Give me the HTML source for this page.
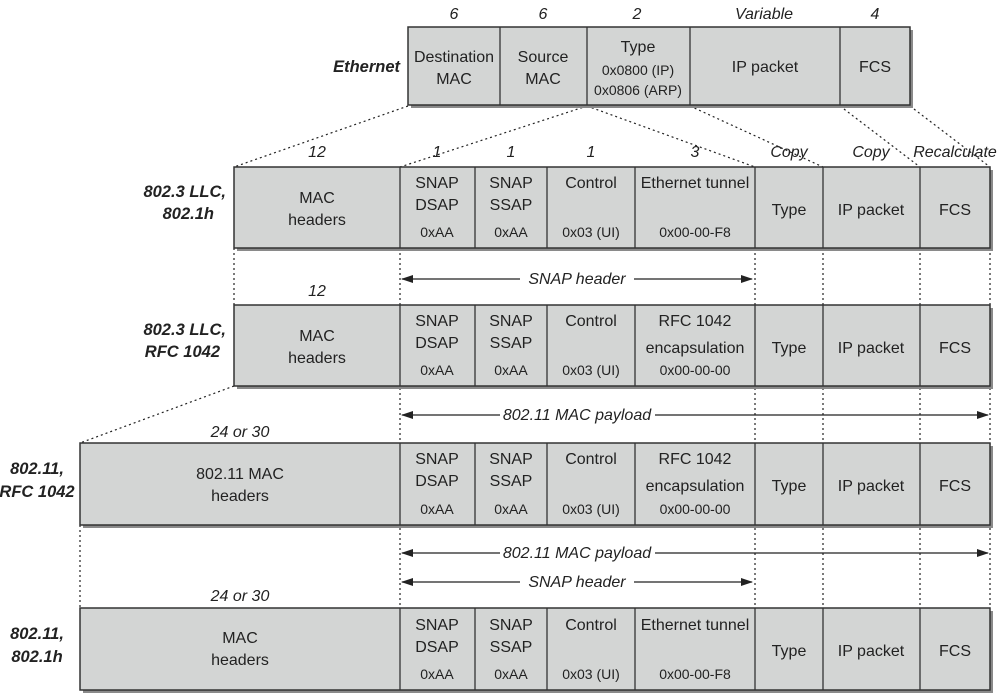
<!DOCTYPE html>
<html><head><meta charset="utf-8"><style>
html,body{margin:0;padding:0;background:#fff;}
svg{display:block;}
text{font-family:"Liberation Sans",sans-serif;font-size:16px;fill:#222;text-anchor:middle;}
.i{font-style:italic;}
.b{font-weight:bold;font-style:italic;font-size:16.5px;}
.s{font-size:14px;}
.d{stroke:#222;stroke-width:1.2;stroke-dasharray:2,3;fill:none;}
.box{fill:#d3d5d4;stroke:#333;stroke-width:1.5;}
.sh{fill:#8a8a8a;}
.v{stroke:#333;stroke-width:1.3;}
</style></head><body>
<svg width="999" height="694" viewBox="0 0 999 694" xmlns="http://www.w3.org/2000/svg">
<defs><marker id="a" markerWidth="12" markerHeight="8" refX="11" refY="4" orient="auto-start-reverse" markerUnits="userSpaceOnUse"><path d="M0,0 L12,4 L0,8 z" fill="#222"/></marker></defs>

<line class="d" x1="408" y1="106" x2="234" y2="167"/>
<line class="d" x1="587" y1="106" x2="400" y2="167"/>
<line class="d" x1="587" y1="106" x2="755" y2="167"/>
<line class="d" x1="690" y1="106" x2="823" y2="167"/>
<line class="d" x1="840" y1="106" x2="920" y2="167"/>
<line class="d" x1="910" y1="106" x2="990" y2="167"/>
<line class="d" x1="234" y1="248" x2="234" y2="305"/>
<line class="d" x1="234" y1="386" x2="80" y2="443"/>
<line class="d" x1="80" y1="525" x2="80" y2="608"/>
<line class="d" x1="400" y1="248" x2="400" y2="608"/>
<line class="d" x1="755" y1="248" x2="755" y2="608"/>
<line class="d" x1="823" y1="248" x2="823" y2="608"/>
<line class="d" x1="920" y1="248" x2="920" y2="608"/>
<line class="d" x1="990" y1="248" x2="990" y2="608"/>

<text class="b" x="400" y="72" style="text-anchor:end">Ethernet</text>
<text class="i" x="454" y="19">6</text><text class="i" x="543" y="19">6</text><text class="i" x="637" y="19">2</text><text class="i" x="764" y="19">Variable</text><text class="i" x="875" y="19">4</text>
<rect class="sh" x="411" y="30" width="502" height="78"/>
<rect class="box" x="408" y="27" width="502" height="78"/>
<line class="v" x1="500" y1="27" x2="500" y2="105"/><line class="v" x1="587" y1="27" x2="587" y2="105"/><line class="v" x1="690" y1="27" x2="690" y2="105"/><line class="v" x1="840" y1="27" x2="840" y2="105"/>
<text x="454" y="62">Destination</text><text x="454" y="84">MAC</text>
<text x="543" y="62">Source</text><text x="543" y="84">MAC</text>
<text x="638" y="52">Type</text><text class="s" x="638" y="75">0x0800 (IP)</text><text class="s" x="638" y="95">0x0806 (ARP)</text>
<text x="765" y="72">IP packet</text><text x="875" y="72">FCS</text>

<text class="i" x="317" y="157">12</text><text class="i" x="437" y="157">1</text><text class="i" x="511" y="157">1</text><text class="i" x="591" y="157">1</text><text class="i" x="695" y="157">3</text>
<text class="i" x="789" y="157">Copy</text><text class="i" x="871" y="157">Copy</text><text class="i" x="955" y="157">Recalculate</text>

<text class="b" x="226" y="197" style="text-anchor:end">802.3 LLC,</text><text class="b" x="214" y="219" style="text-anchor:end">802.1h</text>
<rect class="sh" x="237" y="170" width="756" height="81"/>
<rect class="box" x="234" y="167" width="756" height="81"/>
<line class="v" x1="400" y1="167" x2="400" y2="248"/><line class="v" x1="475" y1="167" x2="475" y2="248"/><line class="v" x1="547" y1="167" x2="547" y2="248"/><line class="v" x1="635" y1="167" x2="635" y2="248"/><line class="v" x1="755" y1="167" x2="755" y2="248"/><line class="v" x1="823" y1="167" x2="823" y2="248"/><line class="v" x1="920" y1="167" x2="920" y2="248"/>
<text x="317" y="203">MAC</text><text x="317" y="225">headers</text>
<text x="437" y="188">SNAP</text><text x="437" y="210">DSAP</text><text class="s" x="437" y="237">0xAA</text>
<text x="511" y="188">SNAP</text><text x="511" y="210">SSAP</text><text class="s" x="511" y="237">0xAA</text>
<text x="591" y="188">Control</text><text class="s" x="591" y="237">0x03 (UI)</text>
<text x="695" y="188">Ethernet tunnel</text><text class="s" x="695" y="237">0x00-00-F8</text>
<text x="789" y="215">Type</text><text x="871" y="215">IP packet</text><text x="955" y="215">FCS</text>

<line x1="402" y1="279" x2="520" y2="279" stroke="#222" stroke-width="1.3" marker-start="url(#a)"/>
<line x1="634" y1="279" x2="752" y2="279" stroke="#222" stroke-width="1.3" marker-end="url(#a)"/>
<text class="i" x="577" y="284">SNAP header</text>
<text class="i" x="317" y="296">12</text>

<text class="b" x="226" y="335" style="text-anchor:end">802.3 LLC,</text><text class="b" x="220" y="357" style="text-anchor:end">RFC 1042</text>
<rect class="sh" x="237" y="308" width="756" height="81"/>
<rect class="box" x="234" y="305" width="756" height="81"/>
<line class="v" x1="400" y1="305" x2="400" y2="386"/><line class="v" x1="475" y1="305" x2="475" y2="386"/><line class="v" x1="547" y1="305" x2="547" y2="386"/><line class="v" x1="635" y1="305" x2="635" y2="386"/><line class="v" x1="755" y1="305" x2="755" y2="386"/><line class="v" x1="823" y1="305" x2="823" y2="386"/><line class="v" x1="920" y1="305" x2="920" y2="386"/>
<text x="317" y="341">MAC</text><text x="317" y="363">headers</text>
<text x="437" y="326">SNAP</text><text x="437" y="348">DSAP</text><text class="s" x="437" y="375">0xAA</text>
<text x="511" y="326">SNAP</text><text x="511" y="348">SSAP</text><text class="s" x="511" y="375">0xAA</text>
<text x="591" y="326">Control</text><text class="s" x="591" y="375">0x03 (UI)</text>
<text x="695" y="326">RFC 1042</text><text x="695" y="353">encapsulation</text><text class="s" x="695" y="375">0x00-00-00</text>
<text x="789" y="353">Type</text><text x="871" y="353">IP packet</text><text x="955" y="353">FCS</text>

<line x1="402" y1="415" x2="500" y2="415" stroke="#222" stroke-width="1.3" marker-start="url(#a)"/>
<line x1="655" y1="415" x2="988" y2="415" stroke="#222" stroke-width="1.3" marker-end="url(#a)"/>
<text class="i" x="577" y="420">802.11 MAC payload</text>
<text class="i" x="240" y="437">24 or 30</text>

<text class="b" x="37" y="474">802.11,</text><text class="b" x="37" y="497">RFC 1042</text>
<rect class="sh" x="83" y="446" width="910" height="82"/>
<rect class="box" x="80" y="443" width="910" height="82"/>
<line class="v" x1="400" y1="443" x2="400" y2="525"/><line class="v" x1="475" y1="443" x2="475" y2="525"/><line class="v" x1="547" y1="443" x2="547" y2="525"/><line class="v" x1="635" y1="443" x2="635" y2="525"/><line class="v" x1="755" y1="443" x2="755" y2="525"/><line class="v" x1="823" y1="443" x2="823" y2="525"/><line class="v" x1="920" y1="443" x2="920" y2="525"/>
<text x="240" y="479">802.11 MAC</text><text x="240" y="501">headers</text>
<text x="437" y="464">SNAP</text><text x="437" y="486">DSAP</text><text class="s" x="437" y="514">0xAA</text>
<text x="511" y="464">SNAP</text><text x="511" y="486">SSAP</text><text class="s" x="511" y="514">0xAA</text>
<text x="591" y="464">Control</text><text class="s" x="591" y="514">0x03 (UI)</text>
<text x="695" y="464">RFC 1042</text><text x="695" y="491">encapsulation</text><text class="s" x="695" y="514">0x00-00-00</text>
<text x="789" y="491">Type</text><text x="871" y="491">IP packet</text><text x="955" y="491">FCS</text>

<line x1="402" y1="553" x2="500" y2="553" stroke="#222" stroke-width="1.3" marker-start="url(#a)"/>
<line x1="655" y1="553" x2="988" y2="553" stroke="#222" stroke-width="1.3" marker-end="url(#a)"/>
<text class="i" x="577" y="558">802.11 MAC payload</text>
<line x1="402" y1="582" x2="520" y2="582" stroke="#222" stroke-width="1.3" marker-start="url(#a)"/>
<line x1="634" y1="582" x2="752" y2="582" stroke="#222" stroke-width="1.3" marker-end="url(#a)"/>
<text class="i" x="577" y="587">SNAP header</text>
<text class="i" x="240" y="601">24 or 30</text>

<text class="b" x="37" y="639">802.11,</text><text class="b" x="37" y="662">802.1h</text>
<rect class="sh" x="83" y="611" width="910" height="82"/>
<rect class="box" x="80" y="608" width="910" height="82"/>
<line class="v" x1="400" y1="608" x2="400" y2="690"/><line class="v" x1="475" y1="608" x2="475" y2="690"/><line class="v" x1="547" y1="608" x2="547" y2="690"/><line class="v" x1="635" y1="608" x2="635" y2="690"/><line class="v" x1="755" y1="608" x2="755" y2="690"/><line class="v" x1="823" y1="608" x2="823" y2="690"/><line class="v" x1="920" y1="608" x2="920" y2="690"/>
<text x="240" y="643">MAC</text><text x="240" y="665">headers</text>
<text x="437" y="630">SNAP</text><text x="437" y="652">DSAP</text><text class="s" x="437" y="679">0xAA</text>
<text x="511" y="630">SNAP</text><text x="511" y="652">SSAP</text><text class="s" x="511" y="679">0xAA</text>
<text x="591" y="630">Control</text><text class="s" x="591" y="679">0x03 (UI)</text>
<text x="695" y="630">Ethernet tunnel</text><text class="s" x="695" y="679">0x00-00-F8</text>
<text x="789" y="656">Type</text><text x="871" y="656">IP packet</text><text x="955" y="656">FCS</text>
</svg>
</body></html>
